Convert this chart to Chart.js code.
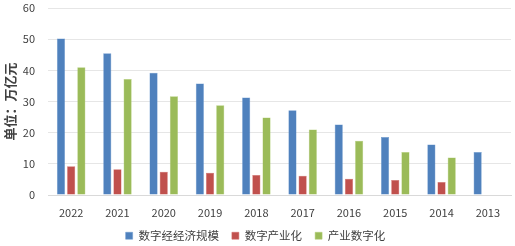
<!DOCTYPE html>
<html lang="zh">
<head>
  <meta charset="UTF-8">
  <title>数字经济规模</title>
  <style>
    html, body { margin: 0; padding: 0; background: #fff; }
    #wrap { width: 515px; height: 246px; position: relative; }
  </style>
  <script src="https://cdn.jsdelivr.net/npm/chart.js"></script>
</head>
<body>
<div id="wrap"><canvas id="chart"></canvas></div>
<script>
const years = ["2022", "2021", "2020", "2019", "2018", "2017", "2016", "2015", "2014", "2013"];
const digitalEconomy = [50.2, 45.5, 39.2, 35.8, 31.3, 27.2, 22.6, 18.6, 16.2, 13.8];
const digitalIndustry = [9.2, 8.3, 7.5, 7.1, 6.4, 6.2, 5.2, 4.8, 4.2, null];
const industryDigital = [41.0, 37.2, 31.7, 28.8, 24.9, 21.0, 17.4, 13.8, 12.0, null];
const seriesNames = ["数字经经济规模", "数字产业化", "产业数字化"];
const yTicks = [0, 10, 20, 30, 40, 50, 60];

const font = "'Noto Sans CJK SC', 'Liberation Sans', sans-serif";

// legend keeps wide gaps between items but takes less height
const legendFit = {
  id: "legendFit",
  beforeLayout(chart) {
    const lg = chart.legend;
    if (lg && !lg._patched) {
      const fit = lg.fit;
      lg.fit = function () { fit.call(this); this.height = 29; };
      lg._patched = true;
    }
  }
};

new Chart(document.getElementById("chart"), {
  type: "bar",
  data: {
    labels: years,
    datasets: [
      { label: seriesNames[0], data: digitalEconomy, backgroundColor: "#4F81BD", borderColor: "#6a98cf", borderWidth: 0.5 },
      { label: seriesNames[1], data: digitalIndustry, backgroundColor: "#C0504D", borderColor: "#d26b68", borderWidth: 0.5 },
      { label: seriesNames[2], data: industryDigital, backgroundColor: "#9BBB59", borderColor: "#b3cf77", borderWidth: 0.5 }
    ]
  },
  plugins: [legendFit],
  options: {
    responsive: true,
    maintainAspectRatio: false,
    animation: false,
    layout: { padding: { top: 0, right: 4, bottom: 0, left: 0 } },
    datasets: { bar: { categoryPercentage: 0.66, barPercentage: 0.8 } },
    plugins: {
      legend: {
        position: "bottom",
        labels: {
          boxWidth: 7, boxHeight: 7, padding: 13,
          color: "#404040",
          font: { family: font, size: 11.5 }
        }
      },
      tooltip: { enabled: false }
    },
    scales: {
      x: {
        grid: { display: false, drawTicks: false },
        border: { color: "#d9d9d9" },
        ticks: { color: "#404040", padding: 12, font: { family: font, size: 11, lineHeight: 1 } },
        afterFit: axis => { axis.height = 22; }
      },
      y: {
        min: 0, max: 60,
        afterBuildTicks: axis => { axis.ticks = yTicks.map(v => ({ value: v })); },
        afterFit: axis => { axis.paddingTop = 8; axis.paddingBottom = 0; axis.width = 48; },
        grid: { color: "#e6e6e6", drawTicks: false },
        border: { display: false },
        ticks: { color: "#404040", padding: 13, font: { family: font, size: 11, lineHeight: 1 } },
        title: {
          display: true, text: "单位：万亿元", color: "#404040", padding: 2,
          font: { family: font, size: 13, weight: "bold" }
        }
      }
    }
  }
});
</script>
</body>
</html>
